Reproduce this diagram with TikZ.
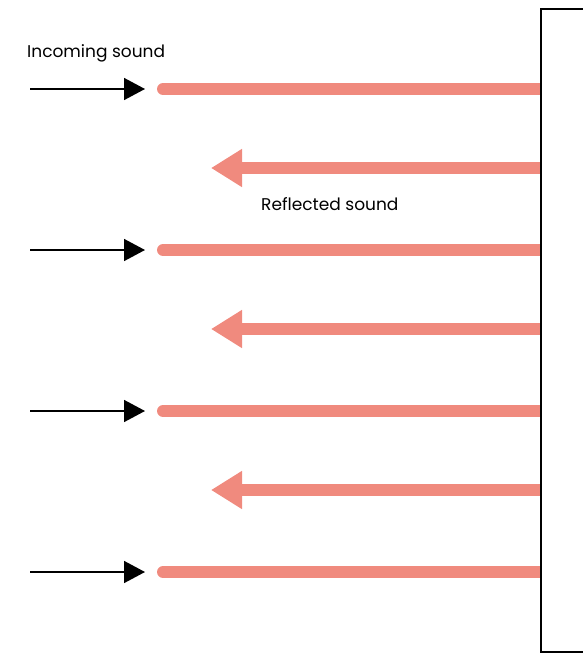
\documentclass[tikz,border=0pt]{standalone}
\usepackage{fontspec}
\setmainfont{Poppins}
\usetikzlibrary{arrows.meta}
\definecolor{soundred}{RGB}{240,138,126}
\begin{document}
\begin{tikzpicture}[x=1pt,y=-1pt,
  incoming/.style={line width=12pt,soundred,line cap=round},
  reflected/.style={line width=12pt,soundred,-{Triangle[length=31pt,width=36pt]}},
  pusharrow/.style={line width=1.6pt,black,-{Triangle[length=21pt,width=22pt]}},
  lbl/.style={font=\fontsize{17pt}{20pt}\selectfont,inner sep=0pt,anchor=west}]
\useasboundingbox (0,0) rectangle (583,654);
\node[lbl] (inlbl) at (27,53) {Incoming sound};
\node[lbl] (reflbl) at (261,204) {Reflected sound};
\foreach \y/\n in {89/a,250/b,411/c,572/d}{
  \coordinate (s\n) at (30,\y);
  \coordinate (t\n) at (145,\y);
  \coordinate (r\n) at (163,\y);
  \coordinate (w\n) at (540,\y);
  \draw[pusharrow] (s\n) -- (t\n);
  \draw[incoming] (r\n) -- (w\n);
}
\foreach \y/\n in {168/e,329/f,490/g}{
  \coordinate (w\n) at (540,\y);
  \coordinate (h\n) at (211,\y);
  \draw[reflected] (w\n) -- (h\n);
}
\fill[white] (541,9) rectangle (600,652);
\draw[line width=2pt] (541,9) rectangle (600,652);
\end{tikzpicture}
\end{document}
